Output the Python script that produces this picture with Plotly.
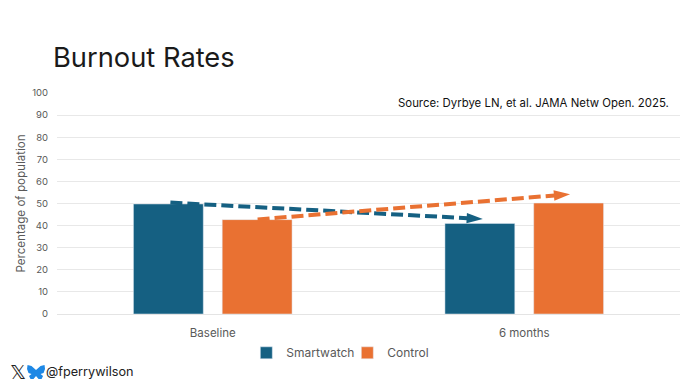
import plotly.graph_objects as go

categories = ["Baseline", "6 months"]
smartwatch = [49.8, 41]
control = [42.7, 50.2]
y_ticks = list(range(0, 101, 10))

arrow_blue_x = [-0.136, 0.867]
arrow_blue_y = [50.4, 43]
arrow_orange_x = [0.144, 1.147]
arrow_orange_y = [42.8, 54.2]

BLUE = "#156082"
ORANGE = "#E97132"
GRAY = "#595959"
FONT = "Inter, Open Sans, sans-serif"

def dx(x):
    return (x - 56.5) / 624

def dy(y):
    return (314 - y) / 221

butterfly_outline = [(35.5, 370), (31, 366), (27, 365), (26.5, 369), (28, 373), (31, 374), (28.5, 376), (30, 379),
                     (33, 379), (35.5, 376), (38, 379), (41, 379), (42.5, 376), (40, 374), (43, 373), (44.5, 369),
                     (44, 365), (40, 366)]

fig = go.Figure()
fig.add_bar(name="Smartwatch", x=categories, y=smartwatch, marker_color=BLUE)
fig.add_bar(name="Control", x=categories, y=control, marker_color=ORANGE)
for xs, ys, c in [(arrow_blue_x, arrow_blue_y, BLUE), (arrow_orange_x, arrow_orange_y, ORANGE)]:
    fig.add_scatter(x=xs, y=ys, xaxis="x2", mode="lines+markers", showlegend=False, hoverinfo="skip",
                    line=dict(color=c, width=4, dash="12px,5px"),
                    marker=dict(symbol="arrow", size=[0, 17], color=c, opacity=1, angleref="previous", line_width=0))

def note(text, x, y, anchor, size, color, family=FONT):
    return dict(text=text, xref="x domain", yref="y domain", x=dx(x), y=dy(y), xanchor=anchor, yanchor="middle",
                showarrow=False, font=dict(size=size, color=color, family=family))

fig.update_layout(
    width=681, height=380, autosize=False,
    margin=dict(l=48.5, r=8.5, t=85, b=74),
    paper_bgcolor="white", plot_bgcolor="white",
    font=dict(family=FONT, size=10, color=GRAY),
    barmode="group", bargap=0.43, bargroupgap=0.213,
    xaxis=dict(type="category", tickfont=dict(size=11.5), showgrid=False, showline=True,
               linecolor="#e4e4e4", ticks="", ticklabelstandoff=8, fixedrange=True),
    xaxis2=dict(overlaying="x", range=[-0.5, 1.5], visible=False, fixedrange=True),
    yaxis=dict(range=[0, 100], tickvals=y_ticks, gridcolor="#e8e8e8", gridwidth=1, zeroline=False,
               ticks="", ticklen=0, tickfont=dict(size=9.5), ticklabelstandoff=8,
               title=dict(text="Percentage of population", font=dict(size=11.6), standoff=4)),
    legend=dict(orientation="h", x=0.466, xanchor="center", y=-0.11, yanchor="top",
                font=dict(size=12), entrywidth=56, entrywidthmode="pixels"),
    annotations=[
        note("Burnout Rates", 50, 58, "left", 27.3, "#1a1a1a"),
        note("Source: Dyrbye LN, et al. JAMA Netw Open. 2025.", 671, 103, "right", 11.4, "#111111"),
        note("𝕏", 17, 372, "center", 20, "#222222", "DejaVu Sans"),
        note("@fperrywilson", 43, 371, "left", 12.7, "#222222"),
    ],
    shapes=[dict(type="path", xref="x domain", yref="y domain", fillcolor="#1E88E5", line_width=0,
                 path=" ".join(("M" if i == 0 else "L") + f"{dx(x):.4f},{dy(y):.4f}"
                               for i, (x, y) in enumerate(butterfly_outline)) + " Z")],
)
fig.write_html("out.html", config=dict(displayModeBar=False))
